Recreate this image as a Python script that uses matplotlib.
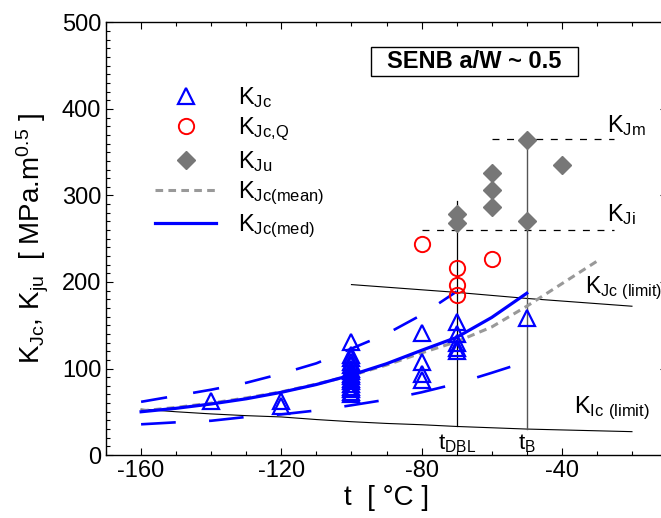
import numpy as np
import matplotlib.pyplot as plt
from matplotlib.lines import Line2D
from matplotlib.patches import Rectangle
from matplotlib.legend_handler import HandlerLine2D

plt.rcParams['font.family'] = 'Liberation Sans'
plt.rcParams['mathtext.default'] = 'regular'
plt.rcParams['lines.scale_dashes'] = False
plt.rcParams['axes.unicode_minus'] = False

# test results, t in degC, K in MPa.m^0.5
t_kjc = [-140, -120, -120,
         -100, -100, -100, -100, -100, -100, -100, -100,
         -100, -100, -100, -100, -100, -100, -100, -100,
         -80, -80, -80, -80,
         -70, -70, -70, -70, -70,
         -50]
kjc = [63, 62, 57,
       131, 116, 112, 108, 104, 100, 97, 94,
       91, 88, 85, 82, 79, 76, 73, 70,
       141, 107, 94, 87,
       154, 140, 129, 124, 120,
       158]

t_kjcq = [-80, -70, -70, -70, -60]
kjcq = [244, 216, 196, 185, 227]

t_kju = [-70, -70, -60, -60, -60, -50, -50, -40]
kju = [279, 268, 326, 306, 287, 271, 364, 335]

# master curve (median) with its bounds
t_med = [-160, -150, -140, -130, -120, -110, -100, -90, -80, -70, -60, -50]
k_med = [50, 54, 59, 65, 72.5, 81.5, 92.5, 105.5, 121, 136, 159, 187]
t_upper = [-160, -150, -140, -130, -120, -110, -100, -90, -80, -70]
k_upper = [61.5, 68.5, 75.5, 83.5, 94, 106, 123, 140, 162, 189]
t_lower = [-160, -150, -140, -130, -120, -110, -100, -90, -80, -70, -60, -50]
k_lower = [35.5, 37.8, 39.6, 44, 47, 51.5, 57.5, 64, 72.5, 82.5, 95, 108]

# mean curve
t_mean = [-160, -150, -140, -130, -120, -110, -100, -90, -80, -70, -60, -50, -40, -30]
k_mean = [51, 55, 60, 66, 73, 82, 92, 104, 118, 131, 148, 172, 198, 224]

# validity limits
t_jc_lim = [-100, -90, -80, -70, -60, -50, -40, -30, -20]
k_jc_lim = [197, 194, 191, 188, 184.5, 181, 178, 175, 172]
t_ic_lim = [-160, -150, -140, -130, -120, -110, -100, -90, -80, -70, -60, -50, -40, -30, -20]
k_ic_lim = [53, 50, 47.5, 45.5, 44, 41, 38.5, 36.5, 35, 33, 31.5, 30, 29, 28, 27]

t_dbl = -70
t_b = -50
k_dbl_top = 294
k_jm = 365
k_ji = 260

blue = '#0000ff'
grey = '#999999'


class MarkerRight(HandlerLine2D):
    # put the legend marker toward the right end of the handle
    def get_xdata(self, legend, xdescent, ydescent, width, height, fontsize):
        return [-xdescent, -xdescent + width], [-xdescent + 0.76 * width]


fig = plt.figure(figsize=(6.61, 5.18), dpi=100)
ax = fig.add_axes([0.1604, 0.1216, 0.8487, 0.835])

# limit lines and transition markers
ax.plot(t_jc_lim, k_jc_lim, color='black', lw=0.8)
ax.plot(t_ic_lim, k_ic_lim, color='black', lw=0.8)
ax.plot([t_dbl, t_dbl], [np.interp(t_dbl, t_ic_lim, k_ic_lim), k_dbl_top], color='black', lw=0.9)
ax.plot([t_b, t_b], [np.interp(t_b, t_ic_lim, k_ic_lim), k_jm], color='#555555', lw=1.0)
ax.plot([-60, -25], [k_jm, k_jm], color='black', lw=0.9, dashes=(5, 5.5))
ax.plot([-80, -25], [k_ji, k_ji], color='black', lw=0.9, dashes=(5, 5.5))

# curves
ax.plot(t_mean, k_mean, color=grey, lw=2.2, dashes=(5.5, 3.8))
ax.plot(t_upper, k_upper, color=blue, lw=1.9, dashes=(19, 19))
ax.plot(t_lower, k_lower, color=blue, lw=1.9, dashes=(25, 24))
ax.plot(t_med, k_med, color=blue, lw=2.3)

# data points
ax.plot(t_kju, kju, ls='none', marker='D', ms=9, color='#777777', mec='#777777')
ax.plot(t_kjcq, kjcq, ls='none', marker='o', ms=11, mfc='none', mec='red', mew=1.4)
ax.plot(t_kjc, kjc, ls='none', marker='^', ms=11, mfc='none', mec=blue, mew=1.6)

ax.set_xlim(-170, -10)
ax.set_ylim(0, 500)
ax.set_xticks([-160, -120, -80, -40])
ax.set_xticks(np.arange(-170, -9, 10), minor=True)
ax.set_yticks(np.arange(0, 501, 100))
ax.set_yticks(np.arange(0, 501, 10), minor=True)
ax.tick_params(which='both', direction='in', top=True, right=True, labelsize=17, width=0.8)
ax.tick_params(which='major', length=5)
ax.tick_params(which='minor', length=3)
for sp in ax.spines.values():
    sp.set_linewidth(1.0)

ax.set_xlabel('t  [ °C ]', fontsize=20, labelpad=2)
ax.set_ylabel('K$_{Jc}$, K$_{ju}$  [ MPa.m$^{0.5}$ ]', fontsize=20, labelpad=8)

# labels on the chart
ax.text(-27, k_jm + 1, 'K$_{Jm}$', fontsize=17, va='bottom', ha='left')
ax.text(-27, k_ji + 4, 'K$_{Ji}$', fontsize=17, va='bottom', ha='left')
ax.text(-33.3, 177, 'K$_{Jc\\ (limit)}$', fontsize=16.5, va='bottom', ha='left')
ax.text(-36.5, 38, 'K$_{Ic\\ (limit)}$', fontsize=17, va='bottom', ha='left')
ax.text(t_dbl, 0, 't$_{DBL}$', fontsize=16, va='bottom', ha='center')
ax.text(t_b, 0, 't$_B$', fontsize=16, va='bottom', ha='center')

ax.add_patch(Rectangle((-94.3, 438), 58.9, 33.7, fc='white', ec='black', lw=1, zorder=3))
ax.text(-64.9, 455, 'SENB a/W ~ 0.5', fontsize=17, fontweight='bold',
        ha='center', va='center', zorder=4)

handles = [
    Line2D([], [], ls='none', marker='^', ms=11, mfc='none', mec=blue, mew=1.6),
    Line2D([], [], ls='none', marker='o', ms=11, mfc='none', mec='red', mew=1.4),
    Line2D([], [], ls='none', marker='D', ms=9, color='#777777'),
    Line2D([], [], color=grey, lw=2.2, dashes=(5.5, 3.8)),
    Line2D([], [], color=blue, lw=2.3),
]
labels = ['K$_{Jc}$', 'K$_{Jc{,}Q}$', 'K$_{Ju}$', 'K$_{Jc(mean)}$', 'K$_{Jc(med)}$']
hmap = {h: MarkerRight() for h in handles[:3]}
ax.legend(handles, labels, handler_map=hmap, loc='upper left',
          bbox_to_anchor=(155 / 661, 1 - 85 / 518),
          bbox_transform=fig.transFigure, frameon=False, fontsize=17,
          handlelength=2.6, handletextpad=0.9, labelspacing=0.245,
          borderpad=0, borderaxespad=0)

fig.savefig('out.png', dpi=100)
